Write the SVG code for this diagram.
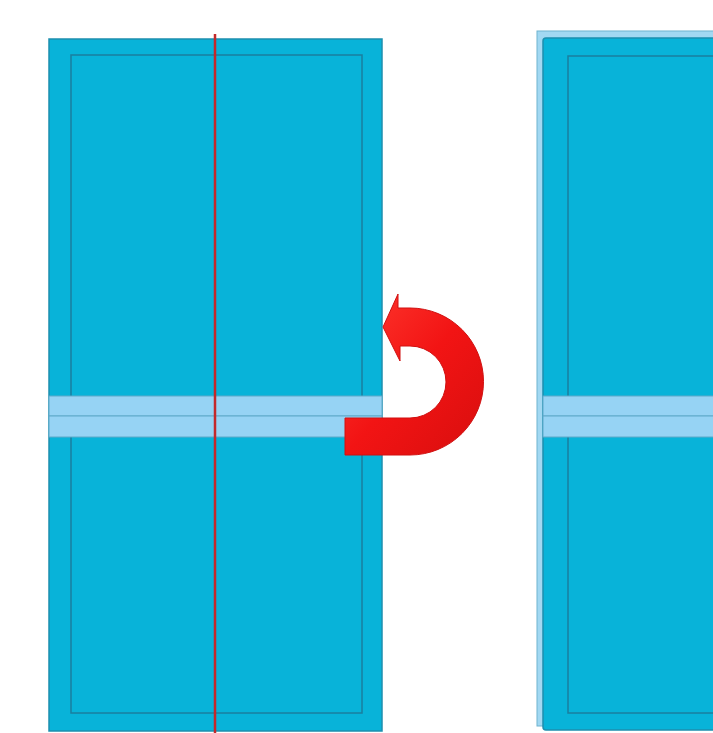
<svg xmlns="http://www.w3.org/2000/svg" width="713" height="733" viewBox="0 0 713 733">
<defs>
<style>
.panel{fill:#08b3d9;stroke:#1d8fae;stroke-width:1.5}
.inner{fill:none;stroke:#1a7f9e;stroke-width:1.5}
.band{fill:#96d3f4;stroke:#5ea9c9;stroke-width:1}
.back{fill:#a2d8f2;stroke:#6fb3cf;stroke-width:1}
</style>
<linearGradient id="red" x1="0" y1="0" x2="1" y2="1">
<stop offset="0" stop-color="#ff3a30"/>
<stop offset="0.5" stop-color="#f21414"/>
<stop offset="1" stop-color="#d80e0e"/>
</linearGradient>
</defs>
<rect width="713" height="733" fill="#ffffff"/>
<g id="left-panel">
<rect class="panel" x="49" y="39" width="333" height="692"/>
<rect class="inner" x="71" y="55" width="291" height="658"/>
<rect class="band" x="49" y="396" width="333" height="20"/>
<rect class="band" x="49" y="416" width="333" height="21"/>
<line x1="215" y1="34" x2="215" y2="733" stroke="#c3282a" stroke-width="2.5"/>
</g>
<g id="right-panel">
<rect class="back" x="537" y="31" width="180" height="695"/>
<rect class="panel" x="543" y="38" width="175" height="692" rx="3"/>
<rect class="inner" x="568" y="56" width="160" height="657"/>
<rect class="band" x="543" y="396" width="175" height="20"/>
<rect class="band" x="543" y="416" width="175" height="21"/>
</g>
<g id="connectors">
<path d="M345,418 L410,418 A36,36 0 0 0 410,346 L400,346 L400,361 L383,327 L398,294 L398,308 L410,308 A73.5,73.5 0 0 1 410,455 L345,455 Z" fill="url(#red)" stroke="#d01010" stroke-width="1"/>
</g>
</svg>
